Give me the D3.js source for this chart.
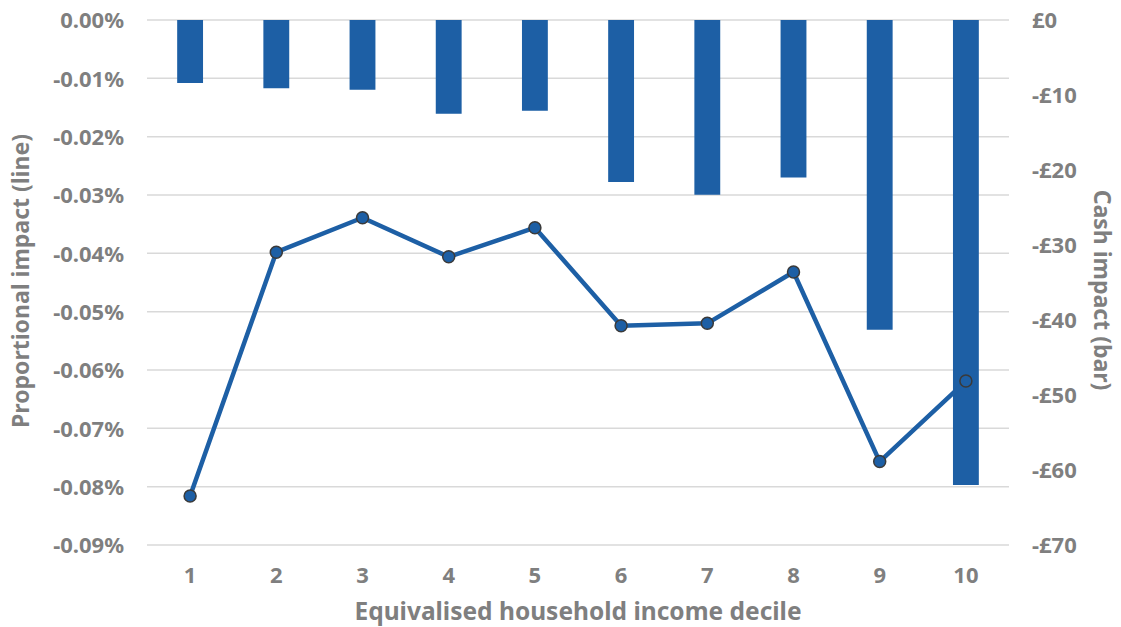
<!DOCTYPE html>
<html>
<head>
<meta charset="utf-8">
<script src="https://cdn.jsdelivr.net/npm/d3@7"></script>
<style>
  html, body { margin: 0; padding: 0; background: #fff; }
  svg text { font-family: "Noto Sans", "Open Sans", sans-serif; font-weight: 700; fill: #7f7f7f; }
</style>
</head>
<body>
<svg id="chart" width="1121" height="627"></svg>
<script>
// Income deciles
const deciles = ["1", "2", "3", "4", "5", "6", "7", "8", "9", "10"];
// Cash impact per decile, £ per year (bars, right axis)
const cashImpact = [-8.4, -9.1, -9.3, -12.5, -12.1, -21.6, -23.3, -21.0, -41.3, -62.0];
// Proportional impact per decile, % of income (line, left axis)
const propImpact = [-0.0816, -0.0398, -0.0339, -0.0406, -0.0356, -0.0524, -0.0520, -0.0432, -0.0757, -0.0619];
// Axis ticks
const leftTicks = [0, -0.01, -0.02, -0.03, -0.04, -0.05, -0.06, -0.07, -0.08, -0.09];
const rightTicks = [0, -10, -20, -30, -40, -50, -60, -70];

const svg = d3.select("#chart");
const plot = { left: 147, right: 1009, top: 20, bottom: 545 };

const x = d3.scaleBand().domain(deciles).range([plot.left, plot.right]).paddingInner(0.7).paddingOuter(0.35);
const xPt = d => x(d) + x.bandwidth() / 2;
const yL = d3.scaleLinear().domain([-0.09, 0]).range([plot.bottom, plot.top]);
const yR = d3.scaleLinear().domain([-70, 0]).range([plot.bottom, plot.top]);

// Gridlines from the left axis
svg.append("g").selectAll("line").data(leftTicks).join("line")
  .attr("x1", plot.left).attr("x2", plot.right)
  .attr("y1", d => yL(d)).attr("y2", d => yL(d))
  .attr("stroke", "#d9d9d9").attr("stroke-width", 1.5);

// Left axis
const leftAxis = d3.axisLeft(yL).tickValues(leftTicks).tickSize(0).tickPadding(0)
  .tickFormat(d => d3.format(".2%")(d / 100).replace("−", "-"));
const gL = svg.append("g").attr("transform", `translate(124,0)`).call(leftAxis);
gL.select(".domain").remove();
gL.selectAll("text").attr("font-size", 22).attr("dy", "0.36em").style("fill", "#7f7f7f");

// Right axis
const rightAxis = d3.axisRight(yR).tickValues(rightTicks).tickSize(0).tickPadding(0)
  .tickFormat(d => (d < 0 ? "-£" : "£") + Math.abs(d));
const gR = svg.append("g").attr("transform", `translate(1032,0)`).call(rightAxis);
gR.select(".domain").remove();
gR.selectAll("text").attr("font-size", 22).attr("dy", "0.36em").style("fill", "#7f7f7f");

// Bottom axis
const bottomAxis = d3.axisBottom(x).tickSize(0).tickPadding(0);
const gB = svg.append("g").attr("transform", `translate(0,583)`).call(bottomAxis);
gB.select(".domain").remove();
gB.selectAll("text").attr("font-size", 22).attr("y", 0).attr("dy", "0").style("fill", "#7f7f7f");

// Bars: cash impact
svg.append("g").selectAll("rect").data(deciles).join("rect")
  .attr("x", (d) => x(d))
  .attr("width", x.bandwidth())
  .attr("y", yR(0))
  .attr("height", (d, i) => yR(cashImpact[i]) - yR(0))
  .attr("fill", "#1d5fa5");

// Line: proportional impact
const line = d3.line().x((d, i) => xPt(deciles[i])).y(d => yL(d));
svg.append("path").datum(propImpact)
  .attr("d", line).attr("fill", "none")
  .attr("stroke", "#1d5fa5").attr("stroke-width", 4.5).attr("stroke-linejoin", "round");

svg.append("g").selectAll("circle").data(propImpact).join("circle")
  .attr("cx", (d, i) => xPt(deciles[i])).attr("cy", d => yL(d)).attr("r", 6)
  .attr("fill", "#1d5fa5").attr("stroke", "#3a3a3a").attr("stroke-width", 1.5);

// Axis titles
svg.append("text").attr("x", 578).attr("y", 620).attr("text-anchor", "middle")
  .attr("font-size", 24.5).text("Equivalised household income decile");
svg.append("text").attr("transform", "translate(29,281) rotate(-90)").attr("text-anchor", "middle")
  .attr("font-size", 23).text("Proportional impact (line)");
svg.append("text").attr("transform", "translate(1094,290) rotate(90)").attr("text-anchor", "middle")
  .attr("font-size", 23).text("Cash impact (bar)");
</script>
</body>
</html>
